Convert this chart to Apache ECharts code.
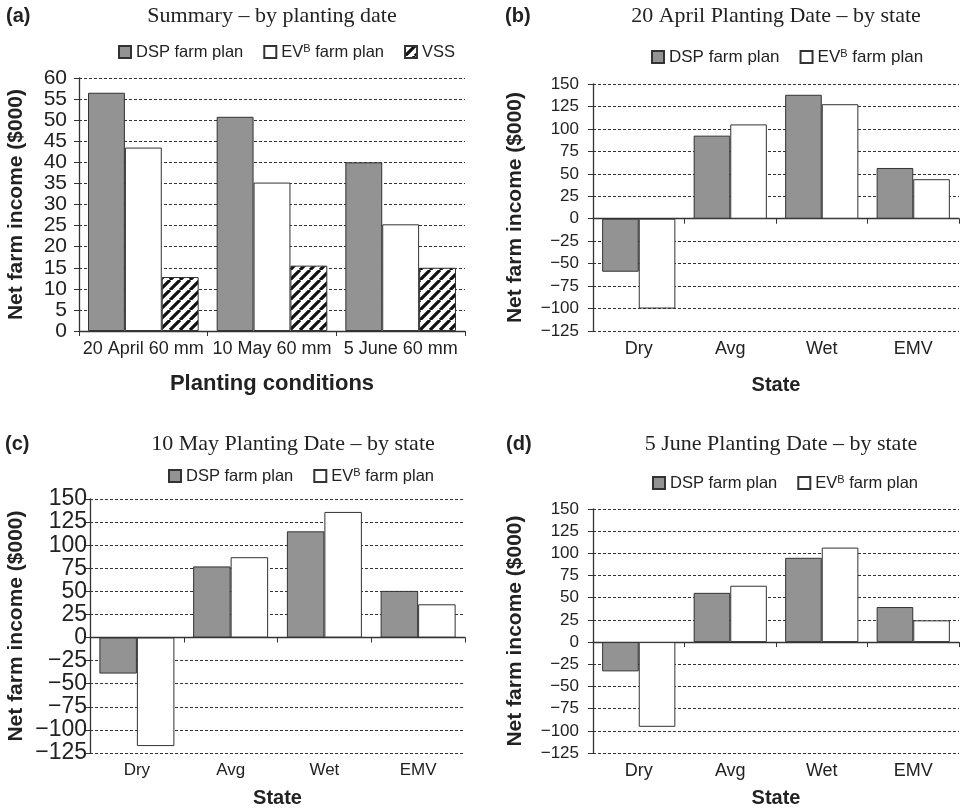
<!DOCTYPE html>
<html><head><meta charset="utf-8">
<script src="https://cdn.jsdelivr.net/npm/echarts@6/dist/echarts.min.js"></script>
<style>html,body{margin:0;padding:0;background:#fff}#c{width:961px;height:809px}</style>
</head><body><div id="c"></div>
<script>
// ---------- data ----------
const summaryCategories = ['20 April 60 mm', '10 May 60 mm', '5 June 60 mm'];
const summaryDSP = [56.5, 50.8, 40.0];
const summaryEV  = [43.5, 35.2, 25.3];
const summaryVSS = [12.8, 15.5, 15.0];

const states = ['Dry', 'Avg', 'Wet', 'EMV'];
const aprilDSP = [-59, 92.5, 138, 56.5];
const aprilEV  = [-100, 105, 127.5, 44];
const mayDSP   = [-39, 77, 115, 50.5];
const mayEV    = [-117.5, 87, 136, 36];
const juneDSP  = [-33, 55.5, 95, 39.5];
const juneEV   = [-95.5, 63.5, 106.5, 24.5];

const summaryTicks = {min: 0, max: 60, interval: 5};
const stateTicks = {min: -125, max: 150, interval: 25};

const titles = ['Summary \u2013 by planting date', '20 April Planting Date \u2013 by state',
                '10 May Planting Date \u2013 by state', '5 June Planting Date \u2013 by state'];
const panelLabels = ['(a)', '(b)', '(c)', '(d)'];

// ---------- styles ----------
const TXT = '#222';
const SANS = '"Liberation Sans", Arial, sans-serif';
const SERIF = '"Liberation Serif", "Times New Roman", serif';
const GRAY = '#939393';

function hatch() {
  const s = 10;
  const c = document.createElement('canvas');
  c.width = s; c.height = s;
  const g = c.getContext('2d');
  g.fillStyle = '#fff'; g.fillRect(0, 0, s, s);
  g.strokeStyle = '#111'; g.lineWidth = 3.2;
  g.beginPath();
  for (let k = -1; k <= 1; k++) { g.moveTo(k * s, s); g.lineTo(k * s + s, 0); }
  g.stroke();
  return c;
}
const hatchPattern = {image: hatch(), repeat: 'repeat'};

const styles = {
  'DSP farm plan': {color: GRAY, borderColor: '#333', borderWidth: 1},
  'EVB farm plan': {color: '#fff', borderColor: '#333', borderWidth: 1},
  'VSS': {color: hatchPattern, borderColor: '#333', borderWidth: 1}
};

const grids = [
  {left: 79, top: 78, width: 386, height: 253},
  {left: 593, top: 84, width: 366, height: 247},
  {left: 90, top: 499, width: 375, height: 254},
  {left: 593, top: 509, width: 366, height: 244}
];

const panelFonts = [
  {yTick: 21, yMargin: 12, xLabel: 18, xName: 22, xNameGap: 42, yName: 21, yNameGap: 52, legend: 16.5},
  {yTick: 17, yMargin: 14, xLabel: 18, xName: 20, xNameGap: 44, yName: 21, yNameGap: 67, legend: 17},
  {yTick: 23, yMargin: 3, xLabel: 17, xName: 20, xNameGap: 35, yName: 21, yNameGap: 63, legend: 16.5},
  {yTick: 17, yMargin: 14, xLabel: 18, xName: 20, xNameGap: 35, yName: 21, yNameGap: 67, legend: 16.5}
];

const axisLineStyle = {color: '#333', width: 1.3};

function legendFor(names, left, top, fs) {
  return {
    data: names, left: left, top: top, padding: 0, orient: 'horizontal',
    itemWidth: 12, itemHeight: 12, itemGap: 20, icon: 'rect',
    selectedMode: false,
    textStyle: {
      color: TXT, fontFamily: SANS, fontSize: fs,
      rich: {
        n: {color: TXT, fontFamily: SANS, fontSize: fs, lineHeight: 20},
        s: {color: TXT, fontFamily: SANS, fontSize: 11, lineHeight: 12, verticalAlign: 'top', padding: [1, 0, 0, 0]}
      }
    },
    formatter: function (name) {
      if (name === 'EVB farm plan') return '{n|EV}{s|B}{n| farm plan}';
      return '{n|' + name + '}';
    }
  };
}

const legends = [
  legendFor(['DSP farm plan', 'EVB farm plan', 'VSS'], 118, 42, panelFonts[0].legend),
  legendFor(['DSP farm plan', 'EVB farm plan'], 651, 47, panelFonts[1].legend),
  legendFor(['DSP farm plan', 'EVB farm plan'], 168, 466, panelFonts[2].legend),
  legendFor(['DSP farm plan', 'EVB farm plan'], 652, 473, panelFonts[3].legend)
];

function yAxisFor(i, ticks) {
  const f = panelFonts[i];
  return {
    gridIndex: i, type: 'value', min: ticks.min, max: ticks.max, interval: ticks.interval,
    axisLine: {show: true, lineStyle: axisLineStyle},
    axisTick: {show: true, length: 5, lineStyle: {color: '#333'}},
    axisLabel: {color: TXT, fontFamily: SANS, fontSize: f.yTick, margin: f.yMargin,
      formatter: v => String(v).replace('-', '\u2212')},
    splitLine: {show: true, lineStyle: {color: '#333', type: [3, 2], width: 1}},
    name: 'Net farm income ($000)', nameLocation: 'middle', nameGap: f.yNameGap,
    nameTextStyle: {color: TXT, fontFamily: SANS, fontWeight: 'bold', fontSize: f.yName}
  };
}

const xAxes = [];
// (a)
xAxes.push({
  gridIndex: 0, type: 'category', data: summaryCategories,
  axisLine: {show: true, lineStyle: axisLineStyle},
  axisTick: {show: true, length: 5, lineStyle: {color: '#333'}},
  axisLabel: {color: TXT, fontFamily: SANS, fontSize: panelFonts[0].xLabel, margin: 9, interval: 0},
  name: 'Planting conditions', nameLocation: 'middle', nameGap: panelFonts[0].xNameGap,
  nameTextStyle: {color: TXT, fontFamily: SANS, fontWeight: 'bold', fontSize: panelFonts[0].xName}
});
for (let i = 1; i < 4; i++) {
  const f = panelFonts[i];
  xAxes.push({
    gridIndex: i, type: 'category', data: states, position: 'bottom',
    axisLine: {show: true, onZero: true, lineStyle: axisLineStyle},
    axisTick: {show: true, length: 5, lineStyle: {color: '#333'}},
    axisLabel: {show: false}
  });
  xAxes.push({
    gridIndex: i, type: 'category', data: states, position: 'bottom',
    axisLine: {show: false, onZero: false},
    axisTick: {show: false},
    axisLabel: {color: TXT, fontFamily: SANS, fontSize: f.xLabel, margin: 9, interval: 0},
    name: 'State', nameLocation: 'middle', nameGap: f.xNameGap,
    nameTextStyle: {color: TXT, fontFamily: SANS, fontWeight: 'bold', fontSize: f.xName}
  });
}

function bar(name, data, xi, yi, gap) {
  return {
    type: 'bar', name: name, data: data, xAxisIndex: xi, yAxisIndex: yi,
    barGap: '0%', barCategoryGap: gap, itemStyle: styles[name], silent: true
  };
}

const series = [
  bar('DSP farm plan', summaryDSP, 0, 0, '14%'),
  bar('EVB farm plan', summaryEV, 0, 0, '14%'),
  bar('VSS', summaryVSS, 0, 0, '14%'),
  bar('DSP farm plan', aprilDSP, 1, 1, '20%'),
  bar('EVB farm plan', aprilEV, 1, 1, '20%'),
  bar('DSP farm plan', mayDSP, 3, 2, '20%'),
  bar('EVB farm plan', mayEV, 3, 2, '20%'),
  bar('DSP farm plan', juneDSP, 5, 3, '20%'),
  bar('EVB farm plan', juneEV, 5, 3, '20%')
];

const titlePos = [[272, 16], [776, 16], [293, 444], [781, 444]];
const labelPos = [[6, 16], [505, 16], [5, 444], [506, 444]];
const graphics = [];
for (let i = 0; i < 4; i++) {
  graphics.push({type: 'text', x: titlePos[i][0], y: titlePos[i][1], silent: true,
    style: {text: titles[i], font: '22px ' + SERIF, fill: TXT, align: 'center', verticalAlign: 'middle'}});
  graphics.push({type: 'text', x: labelPos[i][0], y: labelPos[i][1], silent: true,
    style: {text: panelLabels[i], font: 'bold 20px ' + SANS, fill: TXT, align: 'left', verticalAlign: 'middle'}});
}

const chart = echarts.init(document.getElementById('c'), null, {renderer: 'canvas'});
chart.setOption({
  animation: false,
  backgroundColor: '#fff',
  grid: grids,
  legend: legends,
  xAxis: xAxes,
  yAxis: [yAxisFor(0, summaryTicks), yAxisFor(1, stateTicks), yAxisFor(2, stateTicks), yAxisFor(3, stateTicks)],
  series: series,
  graphic: graphics
});
</script>
</body></html>
